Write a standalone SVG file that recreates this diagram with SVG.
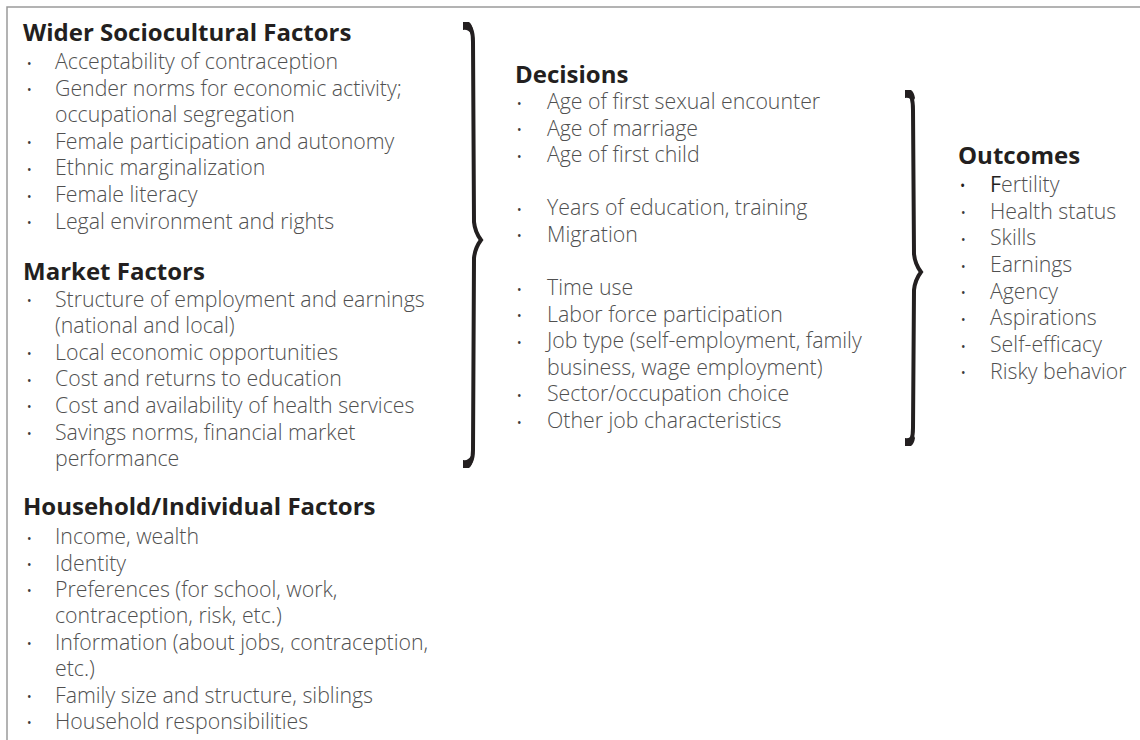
<svg xmlns="http://www.w3.org/2000/svg" width="1140" height="740" viewBox="0 0 1140 740">
<style>
.h{font-family:"Open Sans","Liberation Sans",sans-serif;font-weight:700;font-size:24px;fill:#231f20}
.t{font-family:"Open Sans","Liberation Sans",sans-serif;font-weight:300;font-size:21.3px;fill:#505050}
.b{font-family:"Open Sans","Liberation Sans",sans-serif;font-weight:400;font-size:12px;fill:#3a3a3a}
.brace{fill:none;stroke:#231f20;stroke-width:4;stroke-linecap:butt}
.cap{fill:#231f20}
</style>
<rect width="1140" height="740" fill="#fff"/>
<path d="M7 740 V7 H1140" fill="none" stroke="#9a9a9a" stroke-width="1.5"/>

<g id="wider">
<text class="h" x="23" y="41">Wider Sociocultural Factors</text>
<g class="b"><text x="27" y="67.5">•</text><text x="27" y="94.1">•</text><text x="27" y="147.3">•</text><text x="27" y="173.9">•</text><text x="27" y="200.5">•</text><text x="27" y="227.1">•</text></g>
<g class="t">
<text x="55" y="69">Acceptability of contraception</text>
<text x="55" y="95.6">Gender norms for economic activity;</text>
<text x="55" y="122.2">occupational segregation</text>
<text x="55" y="148.8">Female participation and autonomy</text>
<text x="55" y="175.4">Ethnic marginalization</text>
<text x="55" y="202">Female literacy</text>
<text x="55" y="228.6">Legal environment and rights</text>
</g>
</g>

<g id="market">
<text class="h" x="23" y="280">Market Factors</text>
<g class="b"><text x="27" y="305">•</text><text x="27" y="358.2">•</text><text x="27" y="384.8">•</text><text x="27" y="411.4">•</text><text x="27" y="438">•</text></g>
<g class="t">
<text x="55" y="306.5">Structure of employment and earnings</text>
<text x="55" y="333.1">(national and local)</text>
<text x="55" y="359.7">Local economic opportunities</text>
<text x="55" y="386.3">Cost and returns to education</text>
<text x="55" y="412.9">Cost and availability of health services</text>
<text x="55" y="439.5">Savings norms, financial market</text>
<text x="55" y="466.1">performance</text>
</g>
</g>

<g id="household">
<text class="h" x="23" y="515">Household/Individual Factors</text>
<g class="b"><text x="27" y="542.5">•</text><text x="27" y="569">•</text><text x="27" y="595.4">•</text><text x="27" y="648.2">•</text><text x="27" y="701">•</text><text x="27" y="727.4">•</text></g>
<g class="t">
<text x="55" y="544">Income, wealth</text>
<text x="55" y="570.5">Identity</text>
<text x="55" y="596.9">Preferences (for school, work,</text>
<text x="55" y="623.3">contraception, risk, etc.)</text>
<text x="55" y="649.7">Information (about jobs, contraception,</text>
<text x="55" y="676.1">etc.)</text>
<text x="55" y="702.5">Family size and structure, siblings</text>
<text x="55" y="728.9">Household responsibilities</text>
</g>
</g>

<g id="decisions">
<text class="h" x="515" y="83">Decisions</text>
<g class="b"><text x="517" y="107.5">•</text><text x="517" y="134">•</text><text x="517" y="160.5">•</text><text x="517" y="213.5">•</text><text x="517" y="240">•</text><text x="517" y="293.5">•</text><text x="517" y="320.1">•</text><text x="517" y="346.7">•</text><text x="517" y="399.9">•</text><text x="517" y="426.5">•</text></g>
<g class="t">
<text x="547" y="109">Age of first sexual encounter</text>
<text x="547" y="135.5">Age of marriage</text>
<text x="547" y="162">Age of first child</text>
<text x="547" y="215">Years of education, training</text>
<text x="547" y="241.5">Migration</text>
<text x="547" y="295">Time use</text>
<text x="547" y="321.6">Labor force participation</text>
<text x="547" y="348.2">Job type (self-employment, family</text>
<text x="547" y="374.8">business, wage employment)</text>
<text x="547" y="401.4">Sector/occupation choice</text>
<text x="547" y="428">Other job characteristics</text>
</g>
</g>

<g id="outcomes">
<text class="h" x="958" y="164">Outcomes</text>
<text class="b" x="960" y="191" style="font-size:14px;fill:#231f20">•</text>
<g class="b"><text x="961" y="217.2">•</text><text x="961" y="243.8">•</text><text x="961" y="270.5">•</text><text x="961" y="297.1">•</text><text x="961" y="323.8">•</text><text x="961" y="350.5">•</text><text x="961" y="377.1">•</text></g>
<g class="t">
<text x="990" y="192"><tspan style="font-weight:400;fill:#231f20">F</tspan>ertility</text>
<text x="990" y="218.7">Health status</text>
<text x="990" y="245.3">Skills</text>
<text x="990" y="272">Earnings</text>
<text x="990" y="298.6">Agency</text>
<text x="990" y="325.3">Aspirations</text>
<text x="990" y="352">Self-efficacy</text>
<text x="990" y="378.6">Risky behavior</text>
</g>
</g>

<g id="connectors">
<path class="brace" d="M466 24 Q473 26 473 42 L474 222 Q475 232 481 240 Q475 248 474 258 L473 450 Q473 464 466 466"/>
<path class="cap" d="M463 22 H469 Q472 24 473 30 L471 34 Q468 29 463 30 Z"/>
<path class="cap" d="M463 468 H469 Q472 466 473 460 L471 456 Q468 461 463 460 Z"/>
<path class="brace" d="M907 92 Q913 94 913 110 L914 254 Q915 264 921 272 Q915 280 914 290 L913 428 Q913 442 907 444"/>
<path class="cap" d="M905 90 H911 Q914 92 915 98 L913 102 Q910 97 905 98 Z"/>
<path class="cap" d="M905 446 H911 Q914 444 915 438 L913 434 Q910 439 905 438 Z"/>
</g>
</svg>
